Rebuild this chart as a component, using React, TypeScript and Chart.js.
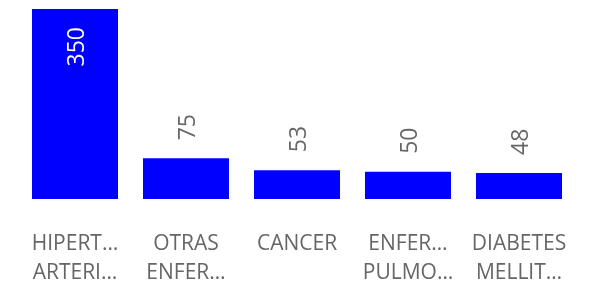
import React, { useEffect, useRef } from "react";
import { Chart, registerables } from "chart.js";

Chart.register(...registerables);

const categories: string[][] = [
  ["HIPERT…", "ARTERI…"],
  ["OTRAS", "ENFER…"],
  ["CANCER"],
  ["ENFER…", "PULMO…"],
  ["DIABETES", "MELLIT…"],
];
const values: number[] = [350, 75, 53, 50, 48];

const FONT = "'Segoe UI', 'Open Sans', 'Noto Sans', sans-serif";
const BAR_COLOR = "#0000FF";
const TEXT_COLOR = "#666666";

const valueLabelPlugin = {
  id: "valueLabels",
  afterDatasetsDraw(chart: any) {
    const ctx = chart.ctx;
    const meta = chart.getDatasetMeta(0);
    const area = chart.chartArea;
    ctx.save();
    ctx.font = `23px ${FONT}`;
    ctx.textBaseline = "middle";
    meta.data.forEach((bar: any, i: number) => {
      const text = String(values[i]);
      const w = ctx.measureText(text).width;
      const offset = 18;
      let startY = bar.y - offset;
      let color = TEXT_COLOR;
      if (startY - w < area.top) {
        startY = bar.y + offset + w;
        color = "#FFFFFF";
      }
      ctx.save();
      ctx.translate(bar.x + 2.5, startY);
      ctx.rotate(-Math.PI / 2);
      ctx.fillStyle = color;
      ctx.textAlign = "left";
      ctx.fillText(text, 0, 0);
      ctx.restore();
    });
    ctx.restore();
  },
};

export default function App() {
  const ref = useRef<HTMLCanvasElement | null>(null);
  useEffect(() => {
    document.body.style.margin = "0";
    if (!ref.current) return;
    const chart = new Chart(ref.current, {
      type: "bar",
      data: {
        labels: categories,
        datasets: [
          {
            data: values,
            backgroundColor: BAR_COLOR,
            borderWidth: 0,
            categoryPercentage: 1,
            barPercentage: 0.775,
          },
        ],
      },
      options: {
        animation: false,
        responsive: true,
        maintainAspectRatio: false,
        layout: { padding: { left: 19.5, right: 17.5, top: 9, bottom: 0 } },
        plugins: {
          legend: { display: false },
          tooltip: { enabled: false },
        },
        scales: {
          x: {
            grid: { display: false, drawTicks: false },
            border: { display: false },
            ticks: {
              color: TEXT_COLOR,
              font: { family: FONT, size: 21, lineHeight: 1.38 },
              padding: 31,
              maxRotation: 0,
              autoSkip: false,
            },
            afterFit(scale: any) {
              scale.height = 84;
              scale.paddingLeft = 0;
              scale.paddingRight = 0;
            },
          },
          y: {
            display: false,
            min: 0,
            max: 350,
          },
        },
      },
      plugins: [valueLabelPlugin],
    });
    return () => chart.destroy();
  }, []);
  return (
    <div style={{ position: "relative", width: 592, height: 283 }}>
      <canvas ref={ref} />
    </div>
  );
}
